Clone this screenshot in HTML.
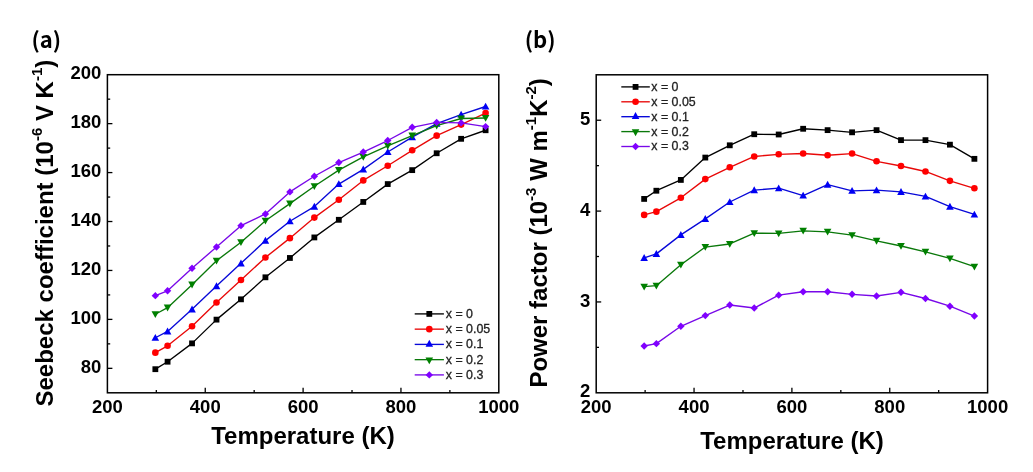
<!DOCTYPE html>
<html><head><meta charset="utf-8"><style>
html,body{margin:0;padding:0;background:#fff;}
body{width:1033px;height:472px;overflow:hidden;}
svg{display:block;}
.tl{font-family:"Liberation Sans",Arial,sans-serif;font-weight:bold;font-size:18.5px;fill:#000;}
.at{font-family:"Liberation Sans",Arial,sans-serif;font-weight:bold;font-size:24px;fill:#000;}
.sup{font-size:15px;}
.lg{font-family:"Liberation Sans",Arial,sans-serif;font-size:12.4px;fill:#222;stroke:#222;stroke-width:0.3px;}
.pl{font-family:"Noto Sans CJK KR",sans-serif;font-weight:bold;font-size:22px;fill:#000;}
</style></head><body>
<svg width="1033" height="472" viewBox="0 0 1033 472">
<rect x="107.4" y="74.7" width="391.40" height="318.10" fill="none" stroke="#000" stroke-width="1.5"/>
<line x1="205.25" y1="392.8" x2="205.25" y2="387.8" stroke="#000" stroke-width="1.3"/>
<line x1="303.10" y1="392.8" x2="303.10" y2="387.8" stroke="#000" stroke-width="1.3"/>
<line x1="400.95" y1="392.8" x2="400.95" y2="387.8" stroke="#000" stroke-width="1.3"/>
<line x1="156.32" y1="392.8" x2="156.32" y2="390.0" stroke="#000" stroke-width="1.3"/>
<line x1="254.18" y1="392.8" x2="254.18" y2="390.0" stroke="#000" stroke-width="1.3"/>
<line x1="352.02" y1="392.8" x2="352.02" y2="390.0" stroke="#000" stroke-width="1.3"/>
<line x1="449.88" y1="392.8" x2="449.88" y2="390.0" stroke="#000" stroke-width="1.3"/>
<line x1="107.4" y1="368.33" x2="112.4" y2="368.33" stroke="#000" stroke-width="1.3"/>
<line x1="107.4" y1="319.39" x2="112.4" y2="319.39" stroke="#000" stroke-width="1.3"/>
<line x1="107.4" y1="270.45" x2="112.4" y2="270.45" stroke="#000" stroke-width="1.3"/>
<line x1="107.4" y1="221.52" x2="112.4" y2="221.52" stroke="#000" stroke-width="1.3"/>
<line x1="107.4" y1="172.58" x2="112.4" y2="172.58" stroke="#000" stroke-width="1.3"/>
<line x1="107.4" y1="123.64" x2="112.4" y2="123.64" stroke="#000" stroke-width="1.3"/>
<line x1="107.4" y1="343.86" x2="110.2" y2="343.86" stroke="#000" stroke-width="1.3"/>
<line x1="107.4" y1="294.92" x2="110.2" y2="294.92" stroke="#000" stroke-width="1.3"/>
<line x1="107.4" y1="245.98" x2="110.2" y2="245.98" stroke="#000" stroke-width="1.3"/>
<line x1="107.4" y1="197.05" x2="110.2" y2="197.05" stroke="#000" stroke-width="1.3"/>
<line x1="107.4" y1="148.11" x2="110.2" y2="148.11" stroke="#000" stroke-width="1.3"/>
<line x1="107.4" y1="99.17" x2="110.2" y2="99.17" stroke="#000" stroke-width="1.3"/>
<text x="107.40" y="413.20" class="tl" text-anchor="middle">200</text>
<text x="205.25" y="413.20" class="tl" text-anchor="middle">400</text>
<text x="303.10" y="413.20" class="tl" text-anchor="middle">600</text>
<text x="400.95" y="413.20" class="tl" text-anchor="middle">800</text>
<text x="498.80" y="413.20" class="tl" text-anchor="middle">1000</text>
<text x="101.40" y="372.93" class="tl" text-anchor="end">80</text>
<text x="101.40" y="323.99" class="tl" text-anchor="end">100</text>
<text x="101.40" y="275.05" class="tl" text-anchor="end">120</text>
<text x="101.40" y="226.12" class="tl" text-anchor="end">140</text>
<text x="101.40" y="177.18" class="tl" text-anchor="end">160</text>
<text x="101.40" y="128.24" class="tl" text-anchor="end">180</text>
<text x="101.40" y="79.30" class="tl" text-anchor="end">200</text>
<rect x="596.2" y="74.8" width="391.40" height="318.00" fill="none" stroke="#000" stroke-width="1.5"/>
<line x1="694.05" y1="392.8" x2="694.05" y2="387.8" stroke="#000" stroke-width="1.3"/>
<line x1="791.90" y1="392.8" x2="791.90" y2="387.8" stroke="#000" stroke-width="1.3"/>
<line x1="889.75" y1="392.8" x2="889.75" y2="387.8" stroke="#000" stroke-width="1.3"/>
<line x1="645.12" y1="392.8" x2="645.12" y2="390.0" stroke="#000" stroke-width="1.3"/>
<line x1="742.98" y1="392.8" x2="742.98" y2="390.0" stroke="#000" stroke-width="1.3"/>
<line x1="840.83" y1="392.8" x2="840.83" y2="390.0" stroke="#000" stroke-width="1.3"/>
<line x1="938.68" y1="392.8" x2="938.68" y2="390.0" stroke="#000" stroke-width="1.3"/>
<line x1="596.2" y1="301.94" x2="601.2" y2="301.94" stroke="#000" stroke-width="1.3"/>
<line x1="596.2" y1="211.09" x2="601.2" y2="211.09" stroke="#000" stroke-width="1.3"/>
<line x1="596.2" y1="120.23" x2="601.2" y2="120.23" stroke="#000" stroke-width="1.3"/>
<line x1="596.2" y1="347.37" x2="599.0" y2="347.37" stroke="#000" stroke-width="1.3"/>
<line x1="596.2" y1="256.51" x2="599.0" y2="256.51" stroke="#000" stroke-width="1.3"/>
<line x1="596.2" y1="165.66" x2="599.0" y2="165.66" stroke="#000" stroke-width="1.3"/>
<text x="596.20" y="413.20" class="tl" text-anchor="middle">200</text>
<text x="694.05" y="413.20" class="tl" text-anchor="middle">400</text>
<text x="791.90" y="413.20" class="tl" text-anchor="middle">600</text>
<text x="889.75" y="413.20" class="tl" text-anchor="middle">800</text>
<text x="987.60" y="413.20" class="tl" text-anchor="middle">1000</text>
<text x="590.20" y="397.40" class="tl" text-anchor="end">2</text>
<text x="590.20" y="306.54" class="tl" text-anchor="end">3</text>
<text x="590.20" y="215.69" class="tl" text-anchor="end">4</text>
<text x="590.20" y="124.83" class="tl" text-anchor="end">5</text>
<polyline points="155.35,369.19 167.58,361.72 192.04,343.37 216.50,319.64 240.97,299.33 265.43,277.31 289.89,257.97 314.35,237.42 338.82,219.80 363.28,201.94 387.74,184.08 412.20,170.13 436.67,153.25 461.13,138.81 485.59,130.25" fill="none" stroke="#000000" stroke-width="1.35" stroke-linejoin="round"/>
<rect x="152.44" y="366.28" width="5.81" height="5.81" fill="#000000"/>
<rect x="164.67" y="358.82" width="5.81" height="5.81" fill="#000000"/>
<rect x="189.14" y="340.47" width="5.81" height="5.81" fill="#000000"/>
<rect x="213.60" y="316.73" width="5.81" height="5.81" fill="#000000"/>
<rect x="238.06" y="296.42" width="5.81" height="5.81" fill="#000000"/>
<rect x="262.52" y="274.40" width="5.81" height="5.81" fill="#000000"/>
<rect x="286.99" y="255.07" width="5.81" height="5.81" fill="#000000"/>
<rect x="311.45" y="234.52" width="5.81" height="5.81" fill="#000000"/>
<rect x="335.91" y="216.90" width="5.81" height="5.81" fill="#000000"/>
<rect x="360.37" y="199.04" width="5.81" height="5.81" fill="#000000"/>
<rect x="384.84" y="181.17" width="5.81" height="5.81" fill="#000000"/>
<rect x="409.30" y="167.23" width="5.81" height="5.81" fill="#000000"/>
<rect x="433.76" y="150.34" width="5.81" height="5.81" fill="#000000"/>
<rect x="458.22" y="135.91" width="5.81" height="5.81" fill="#000000"/>
<rect x="482.69" y="127.34" width="5.81" height="5.81" fill="#000000"/>
<polyline points="155.35,352.67 167.58,345.82 192.04,326.24 216.50,302.51 240.97,280.00 265.43,257.49 289.89,238.15 314.35,217.60 338.82,199.74 363.28,180.41 387.74,165.73 412.20,150.31 436.67,135.63 461.13,124.62 485.59,113.12" fill="none" stroke="#e80808" stroke-width="1.35" stroke-linejoin="round"/>
<circle cx="155.35" cy="352.67" r="3.30" fill="#ff0000"/>
<circle cx="167.58" cy="345.82" r="3.30" fill="#ff0000"/>
<circle cx="192.04" cy="326.24" r="3.30" fill="#ff0000"/>
<circle cx="216.50" cy="302.51" r="3.30" fill="#ff0000"/>
<circle cx="240.97" cy="280.00" r="3.30" fill="#ff0000"/>
<circle cx="265.43" cy="257.49" r="3.30" fill="#ff0000"/>
<circle cx="289.89" cy="238.15" r="3.30" fill="#ff0000"/>
<circle cx="314.35" cy="217.60" r="3.30" fill="#ff0000"/>
<circle cx="338.82" cy="199.74" r="3.30" fill="#ff0000"/>
<circle cx="363.28" cy="180.41" r="3.30" fill="#ff0000"/>
<circle cx="387.74" cy="165.73" r="3.30" fill="#ff0000"/>
<circle cx="412.20" cy="150.31" r="3.30" fill="#ff0000"/>
<circle cx="436.67" cy="135.63" r="3.30" fill="#ff0000"/>
<circle cx="461.13" cy="124.62" r="3.30" fill="#ff0000"/>
<circle cx="485.59" cy="113.12" r="3.30" fill="#ff0000"/>
<polyline points="155.35,337.74 167.58,331.38 192.04,309.36 216.50,286.11 240.97,263.36 265.43,240.60 289.89,221.27 314.35,206.59 338.82,184.08 363.28,169.40 387.74,152.02 412.20,137.10 436.67,123.64 461.13,114.58 485.59,106.51" fill="none" stroke="#0808d8" stroke-width="1.35" stroke-linejoin="round"/>
<polygon points="155.35,333.95 159.14,340.78 151.55,340.78" fill="#0000f4"/>
<polygon points="167.58,327.59 171.37,334.42 163.78,334.42" fill="#0000f4"/>
<polygon points="192.04,305.56 195.84,312.40 188.25,312.40" fill="#0000f4"/>
<polygon points="216.50,282.32 220.30,289.15 212.71,289.15" fill="#0000f4"/>
<polygon points="240.97,259.56 244.76,266.39 237.17,266.39" fill="#0000f4"/>
<polygon points="265.43,236.81 269.22,243.64 261.63,243.64" fill="#0000f4"/>
<polygon points="289.89,217.48 293.69,224.31 286.10,224.31" fill="#0000f4"/>
<polygon points="314.35,202.79 318.15,209.63 310.56,209.63" fill="#0000f4"/>
<polygon points="338.82,180.28 342.61,187.11 335.02,187.11" fill="#0000f4"/>
<polygon points="363.28,165.60 367.07,172.43 359.48,172.43" fill="#0000f4"/>
<polygon points="387.74,148.23 391.54,155.06 383.95,155.06" fill="#0000f4"/>
<polygon points="412.20,133.30 416.00,140.13 408.41,140.13" fill="#0000f4"/>
<polygon points="436.67,119.84 440.46,126.67 432.87,126.67" fill="#0000f4"/>
<polygon points="461.13,110.79 464.92,117.62 457.33,117.62" fill="#0000f4"/>
<polygon points="485.59,102.71 489.39,109.55 481.80,109.55" fill="#0000f4"/>
<polyline points="155.35,314.25 167.58,307.65 192.04,284.65 216.50,260.67 240.97,242.31 265.43,220.78 289.89,203.65 314.35,186.28 338.82,170.13 363.28,156.92 387.74,145.91 412.20,135.63 436.67,125.60 461.13,118.50 485.59,118.01" fill="none" stroke="#0a780a" stroke-width="1.35" stroke-linejoin="round"/>
<polygon points="155.35,318.05 159.14,311.22 151.55,311.22" fill="#008000"/>
<polygon points="167.58,311.44 171.37,304.61 163.78,304.61" fill="#008000"/>
<polygon points="192.04,288.44 195.84,281.61 188.25,281.61" fill="#008000"/>
<polygon points="216.50,264.46 220.30,257.63 212.71,257.63" fill="#008000"/>
<polygon points="240.97,246.11 244.76,239.28 237.17,239.28" fill="#008000"/>
<polygon points="265.43,224.58 269.22,217.75 261.63,217.75" fill="#008000"/>
<polygon points="289.89,207.45 293.69,200.62 286.10,200.62" fill="#008000"/>
<polygon points="314.35,190.07 318.15,183.24 310.56,183.24" fill="#008000"/>
<polygon points="338.82,173.92 342.61,167.09 335.02,167.09" fill="#008000"/>
<polygon points="363.28,160.71 367.07,153.88 359.48,153.88" fill="#008000"/>
<polygon points="387.74,149.70 391.54,142.87 383.95,142.87" fill="#008000"/>
<polygon points="412.20,139.42 416.00,132.59 408.41,132.59" fill="#008000"/>
<polygon points="436.67,129.39 440.46,122.56 432.87,122.56" fill="#008000"/>
<polygon points="461.13,122.29 464.92,115.46 457.33,115.46" fill="#008000"/>
<polygon points="485.59,121.81 489.39,114.97 481.80,114.97" fill="#008000"/>
<polyline points="155.35,295.66 167.58,290.76 192.04,268.25 216.50,246.96 240.97,225.68 265.43,213.93 289.89,191.91 314.35,176.25 338.82,162.54 363.28,152.02 387.74,140.52 412.20,127.31 436.67,122.41 461.13,122.90 485.59,126.57" fill="none" stroke="#7808e8" stroke-width="1.35" stroke-linejoin="round"/>
<polygon points="155.35,291.96 159.04,295.66 155.35,299.35 151.65,295.66" fill="#8000ff"/>
<polygon points="167.58,287.07 171.27,290.76 167.58,294.46 163.88,290.76" fill="#8000ff"/>
<polygon points="192.04,264.56 195.74,268.25 192.04,271.95 188.34,268.25" fill="#8000ff"/>
<polygon points="216.50,243.27 220.20,246.96 216.50,250.66 212.81,246.96" fill="#8000ff"/>
<polygon points="240.97,221.98 244.66,225.68 240.97,229.37 237.27,225.68" fill="#8000ff"/>
<polygon points="265.43,210.23 269.12,213.93 265.43,217.63 261.73,213.93" fill="#8000ff"/>
<polygon points="289.89,188.21 293.59,191.91 289.89,195.60 286.19,191.91" fill="#8000ff"/>
<polygon points="314.35,172.55 318.05,176.25 314.35,179.94 310.66,176.25" fill="#8000ff"/>
<polygon points="338.82,158.85 342.51,162.54 338.82,166.24 335.12,162.54" fill="#8000ff"/>
<polygon points="363.28,148.33 366.97,152.02 363.28,155.72 359.58,152.02" fill="#8000ff"/>
<polygon points="387.74,136.83 391.44,140.52 387.74,144.22 384.04,140.52" fill="#8000ff"/>
<polygon points="412.20,123.61 415.90,127.31 412.20,131.00 408.51,127.31" fill="#8000ff"/>
<polygon points="436.67,118.72 440.36,122.41 436.67,126.11 432.97,122.41" fill="#8000ff"/>
<polygon points="461.13,119.21 464.82,122.90 461.13,126.60 457.43,122.90" fill="#8000ff"/>
<polygon points="485.59,122.88 489.29,126.57 485.59,130.27 481.89,126.57" fill="#8000ff"/>
<polyline points="644.15,198.91 656.38,190.73 680.84,179.92 705.30,157.57 729.77,145.31 754.23,134.22 778.69,134.49 803.15,128.77 827.62,130.13 852.08,132.31 876.54,130.13 901.00,140.13 925.47,140.13 949.93,144.67 974.39,158.84" fill="none" stroke="#000000" stroke-width="1.35" stroke-linejoin="round"/>
<rect x="641.24" y="196.01" width="5.81" height="5.81" fill="#000000"/>
<rect x="653.47" y="187.83" width="5.81" height="5.81" fill="#000000"/>
<rect x="677.94" y="177.02" width="5.81" height="5.81" fill="#000000"/>
<rect x="702.40" y="154.67" width="5.81" height="5.81" fill="#000000"/>
<rect x="726.86" y="142.40" width="5.81" height="5.81" fill="#000000"/>
<rect x="751.32" y="131.32" width="5.81" height="5.81" fill="#000000"/>
<rect x="775.79" y="131.59" width="5.81" height="5.81" fill="#000000"/>
<rect x="800.25" y="125.87" width="5.81" height="5.81" fill="#000000"/>
<rect x="824.71" y="127.23" width="5.81" height="5.81" fill="#000000"/>
<rect x="849.17" y="129.41" width="5.81" height="5.81" fill="#000000"/>
<rect x="873.64" y="127.23" width="5.81" height="5.81" fill="#000000"/>
<rect x="898.10" y="137.22" width="5.81" height="5.81" fill="#000000"/>
<rect x="922.56" y="137.22" width="5.81" height="5.81" fill="#000000"/>
<rect x="947.02" y="141.77" width="5.81" height="5.81" fill="#000000"/>
<rect x="971.49" y="155.94" width="5.81" height="5.81" fill="#000000"/>
<polyline points="644.15,214.90 656.38,211.63 680.84,197.82 705.30,179.10 729.77,167.29 754.23,156.48 778.69,154.30 803.15,153.48 827.62,155.21 852.08,153.57 876.54,161.30 901.00,166.02 925.47,171.47 949.93,180.83 974.39,188.28" fill="none" stroke="#e80808" stroke-width="1.35" stroke-linejoin="round"/>
<circle cx="644.15" cy="214.90" r="3.30" fill="#ff0000"/>
<circle cx="656.38" cy="211.63" r="3.30" fill="#ff0000"/>
<circle cx="680.84" cy="197.82" r="3.30" fill="#ff0000"/>
<circle cx="705.30" cy="179.10" r="3.30" fill="#ff0000"/>
<circle cx="729.77" cy="167.29" r="3.30" fill="#ff0000"/>
<circle cx="754.23" cy="156.48" r="3.30" fill="#ff0000"/>
<circle cx="778.69" cy="154.30" r="3.30" fill="#ff0000"/>
<circle cx="803.15" cy="153.48" r="3.30" fill="#ff0000"/>
<circle cx="827.62" cy="155.21" r="3.30" fill="#ff0000"/>
<circle cx="852.08" cy="153.57" r="3.30" fill="#ff0000"/>
<circle cx="876.54" cy="161.30" r="3.30" fill="#ff0000"/>
<circle cx="901.00" cy="166.02" r="3.30" fill="#ff0000"/>
<circle cx="925.47" cy="171.47" r="3.30" fill="#ff0000"/>
<circle cx="949.93" cy="180.83" r="3.30" fill="#ff0000"/>
<circle cx="974.39" cy="188.28" r="3.30" fill="#ff0000"/>
<polyline points="644.15,257.88 656.38,253.88 680.84,234.89 705.30,218.90 729.77,202.00 754.23,190.10 778.69,188.19 803.15,195.55 827.62,184.65 852.08,190.82 876.54,190.19 901.00,191.91 925.47,196.46 949.93,206.63 974.39,214.45" fill="none" stroke="#0808d8" stroke-width="1.35" stroke-linejoin="round"/>
<polygon points="644.15,254.08 647.94,260.91 640.35,260.91" fill="#0000f4"/>
<polygon points="656.38,250.08 660.17,256.92 652.58,256.92" fill="#0000f4"/>
<polygon points="680.84,231.10 684.64,237.93 677.05,237.93" fill="#0000f4"/>
<polygon points="705.30,215.10 709.10,221.94 701.51,221.94" fill="#0000f4"/>
<polygon points="729.77,198.21 733.56,205.04 725.97,205.04" fill="#0000f4"/>
<polygon points="754.23,186.30 758.02,193.13 750.43,193.13" fill="#0000f4"/>
<polygon points="778.69,184.39 782.49,191.23 774.90,191.23" fill="#0000f4"/>
<polygon points="803.15,191.75 806.95,198.59 799.36,198.59" fill="#0000f4"/>
<polygon points="827.62,180.85 831.41,187.68 823.82,187.68" fill="#0000f4"/>
<polygon points="852.08,187.03 855.87,193.86 848.28,193.86" fill="#0000f4"/>
<polygon points="876.54,186.39 880.34,193.22 872.75,193.22" fill="#0000f4"/>
<polygon points="901.00,188.12 904.80,194.95 897.21,194.95" fill="#0000f4"/>
<polygon points="925.47,192.66 929.26,199.49 921.67,199.49" fill="#0000f4"/>
<polygon points="949.93,202.84 953.72,209.67 946.13,209.67" fill="#0000f4"/>
<polygon points="974.39,210.65 978.19,217.48 970.60,217.48" fill="#0000f4"/>
<polyline points="644.15,286.68 656.38,285.68 680.84,264.69 705.30,247.07 729.77,243.98 754.23,233.16 778.69,233.44 803.15,230.80 827.62,231.80 852.08,235.16 876.54,240.89 901.00,245.97 925.47,251.79 949.93,258.42 974.39,266.69" fill="none" stroke="#0a780a" stroke-width="1.35" stroke-linejoin="round"/>
<polygon points="644.15,290.47 647.94,283.64 640.35,283.64" fill="#008000"/>
<polygon points="656.38,289.47 660.17,282.64 652.58,282.64" fill="#008000"/>
<polygon points="680.84,268.49 684.64,261.66 677.05,261.66" fill="#008000"/>
<polygon points="705.30,250.86 709.10,244.03 701.51,244.03" fill="#008000"/>
<polygon points="729.77,247.77 733.56,240.94 725.97,240.94" fill="#008000"/>
<polygon points="754.23,236.96 758.02,230.13 750.43,230.13" fill="#008000"/>
<polygon points="778.69,237.23 782.49,230.40 774.90,230.40" fill="#008000"/>
<polygon points="803.15,234.60 806.95,227.77 799.36,227.77" fill="#008000"/>
<polygon points="827.62,235.60 831.41,228.77 823.82,228.77" fill="#008000"/>
<polygon points="852.08,238.96 855.87,232.13 848.28,232.13" fill="#008000"/>
<polygon points="876.54,244.68 880.34,237.85 872.75,237.85" fill="#008000"/>
<polygon points="901.00,249.77 904.80,242.94 897.21,242.94" fill="#008000"/>
<polygon points="925.47,255.58 929.26,248.75 921.67,248.75" fill="#008000"/>
<polygon points="949.93,262.22 953.72,255.39 946.13,255.39" fill="#008000"/>
<polygon points="974.39,270.49 978.19,263.65 970.60,263.65" fill="#008000"/>
<polyline points="644.15,346.01 656.38,343.65 680.84,326.29 705.30,315.57 729.77,305.03 754.23,308.03 778.69,295.13 803.15,291.77 827.62,291.77 852.08,294.31 876.54,296.04 901.00,292.31 925.47,298.49 949.93,306.21 974.39,316.03" fill="none" stroke="#7808e8" stroke-width="1.35" stroke-linejoin="round"/>
<polygon points="644.15,342.31 647.84,346.01 644.15,349.70 640.45,346.01" fill="#8000ff"/>
<polygon points="656.38,339.95 660.07,343.65 656.38,347.34 652.68,343.65" fill="#8000ff"/>
<polygon points="680.84,322.60 684.54,326.29 680.84,329.99 677.14,326.29" fill="#8000ff"/>
<polygon points="705.30,311.88 709.00,315.57 705.30,319.27 701.61,315.57" fill="#8000ff"/>
<polygon points="729.77,301.34 733.46,305.03 729.77,308.73 726.07,305.03" fill="#8000ff"/>
<polygon points="754.23,304.33 757.92,308.03 754.23,311.73 750.53,308.03" fill="#8000ff"/>
<polygon points="778.69,291.43 782.39,295.13 778.69,298.82 774.99,295.13" fill="#8000ff"/>
<polygon points="803.15,288.07 806.85,291.77 803.15,295.46 799.46,291.77" fill="#8000ff"/>
<polygon points="827.62,288.07 831.31,291.77 827.62,295.46 823.92,291.77" fill="#8000ff"/>
<polygon points="852.08,290.61 855.77,294.31 852.08,298.01 848.38,294.31" fill="#8000ff"/>
<polygon points="876.54,292.34 880.24,296.04 876.54,299.73 872.84,296.04" fill="#8000ff"/>
<polygon points="901.00,288.62 904.70,292.31 901.00,296.01 897.31,292.31" fill="#8000ff"/>
<polygon points="925.47,294.79 929.16,298.49 925.47,302.19 921.77,298.49" fill="#8000ff"/>
<polygon points="949.93,302.52 953.62,306.21 949.93,309.91 946.23,306.21" fill="#8000ff"/>
<polygon points="974.39,312.33 978.09,316.03 974.39,319.72 970.69,316.03" fill="#8000ff"/>
<line x1="414.7" y1="313.90" x2="443.9" y2="313.90" stroke="#000000" stroke-width="1.35"/>
<rect x="426.40" y="311.00" width="5.81" height="5.81" fill="#000000"/>
<text x="445.80" y="317.80" class="lg">x = 0</text>
<line x1="414.7" y1="329.15" x2="443.9" y2="329.15" stroke="#e80808" stroke-width="1.35"/>
<circle cx="429.30" cy="329.15" r="3.30" fill="#ff0000"/>
<text x="445.80" y="333.05" class="lg">x = 0.05</text>
<line x1="414.7" y1="344.40" x2="443.9" y2="344.40" stroke="#0808d8" stroke-width="1.35"/>
<polygon points="429.30,339.80 433.10,346.64 425.50,346.64" fill="#0000f4"/>
<text x="445.80" y="348.30" class="lg">x = 0.1</text>
<line x1="414.7" y1="359.65" x2="443.9" y2="359.65" stroke="#0a780a" stroke-width="1.35"/>
<polygon points="429.30,364.25 433.10,357.41 425.50,357.41" fill="#008000"/>
<text x="445.80" y="363.55" class="lg">x = 0.2</text>
<line x1="414.7" y1="374.90" x2="443.9" y2="374.90" stroke="#7808e8" stroke-width="1.35"/>
<polygon points="429.30,371.20 433.00,374.90 429.30,378.60 425.60,374.90" fill="#8000ff"/>
<text x="445.80" y="378.80" class="lg">x = 0.3</text>
<line x1="621.3" y1="86.90" x2="649.8" y2="86.90" stroke="#000000" stroke-width="1.35"/>
<rect x="632.65" y="84.00" width="5.81" height="5.81" fill="#000000"/>
<text x="651.30" y="90.80" class="lg">x = 0</text>
<line x1="621.3" y1="101.80" x2="649.8" y2="101.80" stroke="#e80808" stroke-width="1.35"/>
<circle cx="635.55" cy="101.80" r="3.30" fill="#ff0000"/>
<text x="651.30" y="105.70" class="lg">x = 0.05</text>
<line x1="621.3" y1="116.70" x2="649.8" y2="116.70" stroke="#0808d8" stroke-width="1.35"/>
<polygon points="635.55,112.11 639.34,118.94 631.75,118.94" fill="#0000f4"/>
<text x="651.30" y="120.60" class="lg">x = 0.1</text>
<line x1="621.3" y1="131.60" x2="649.8" y2="131.60" stroke="#0a780a" stroke-width="1.35"/>
<polygon points="635.55,136.20 639.34,129.36 631.75,129.36" fill="#008000"/>
<text x="651.30" y="135.50" class="lg">x = 0.2</text>
<line x1="621.3" y1="146.50" x2="649.8" y2="146.50" stroke="#7808e8" stroke-width="1.35"/>
<polygon points="635.55,142.80 639.25,146.50 635.55,150.20 631.85,146.50" fill="#8000ff"/>
<text x="651.30" y="150.40" class="lg">x = 0.3</text>
<text x="303" y="444.4" class="at" text-anchor="middle">Temperature (K)</text>
<text x="792" y="448.7" class="at" text-anchor="middle">Temperature (K)</text>
<text class="at" text-anchor="middle" transform="translate(52.6,233.1) rotate(-90)">Seebeck coefficient (10<tspan class="sup" dy="-11">-6</tspan><tspan dy="11"> V K</tspan><tspan class="sup" dy="-11">-1</tspan><tspan dy="11">)</tspan></text>
<text class="at" text-anchor="middle" transform="translate(547,232.9) rotate(-90)">Power factor (10<tspan class="sup" dy="-11">-3</tspan><tspan dy="11"> W m</tspan><tspan class="sup" dy="-11">-1</tspan><tspan dy="11">K</tspan><tspan class="sup" dy="-11">-2</tspan><tspan dy="11">)</tspan></text>
<text x="31.5" y="48" class="pl">(a)</text>
<text x="524.8" y="47.8" class="pl">(b)</text>
</svg>
</body></html>
